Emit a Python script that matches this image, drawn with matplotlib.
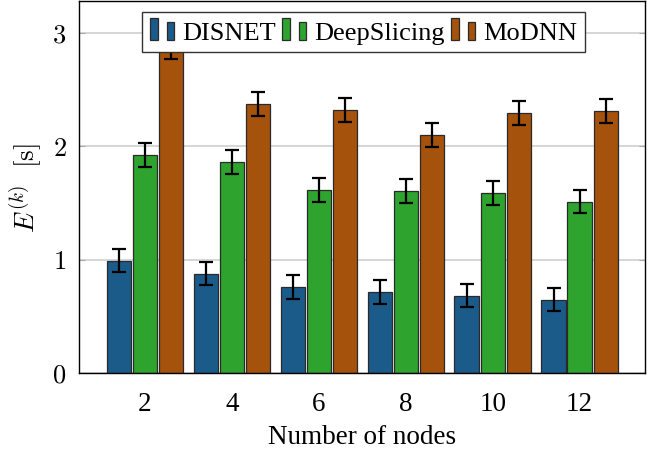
import matplotlib
matplotlib.use("Agg")
import matplotlib.pyplot as plt
import numpy as np
from matplotlib.patches import Rectangle
from matplotlib.legend_handler import HandlerBase
from matplotlib.ticker import FixedLocator, FixedFormatter

nodes = ["2", "4", "6", "8", "10", "12"]
series = ["DISNET", "DeepSlicing", "MoDNN"]
yticks = [0, 1, 2, 3]
disnet = [0.99, 0.876, 0.76, 0.712, 0.683, 0.648]
deepslicing = [1.923, 1.864, 1.615, 1.606, 1.59, 1.512]
modnn = [2.87, 2.372, 2.321, 2.098, 2.297, 2.312]
disnet_err = [0.103, 0.102, 0.105, 0.105, 0.103, 0.103]
deepslicing_err = [0.106, 0.105, 0.105, 0.105, 0.104, 0.104]
modnn_err = [0.1, 0.107, 0.106, 0.105, 0.105, 0.104]
colors = ["#1b5b8a", "#2ea32e", "#a5520c"]

plt.rcParams['font.family'] = ['Liberation Serif', 'DejaVu Serif']
plt.rcParams['mathtext.fontset'] = 'cm'
plt.rcParams['font.size'] = 19.5

fig = plt.figure(figsize=(6.58, 4.6), dpi=100)
ax = fig.add_axes([0.120, 0.187, 0.860, 0.808])

x = np.arange(len(nodes))
width = 0.28
offsets = [-0.30, 0.0, 0.30]
vals = [disnet, deepslicing, modnn]
errs = [disnet_err, deepslicing_err, modnn_err]
for i in range(3):
    ax.bar(x + offsets[i], vals[i], width, color=colors[i], edgecolor="#2a2a2a",
           linewidth=0.9, label=series[i], zorder=2)
    ax.errorbar(x + offsets[i], vals[i], yerr=errs[i], fmt='none', ecolor='black',
                elinewidth=1.6, capsize=5, capthick=1.6, zorder=3)

ax.set_xlim(-0.76, 5.75)
ax.set_ylim(0, 3.28)
ax.yaxis.set_major_locator(FixedLocator(yticks))
ax.yaxis.set_major_formatter(FixedFormatter(["$%d$" % t for t in yticks]))
ax.set_xticks(x)
ax.set_xticklabels(nodes)
ax.yaxis.grid(True, color="#d3d3d3", linewidth=1.3, zorder=0)
ax.set_axisbelow(True)
ax.tick_params(axis='x', length=0, pad=13, labelsize=19.5)
ax.tick_params(axis='y', direction='in', length=4, color='#aaaaaa', left=True, right=True,
               pad=9, labelsize=19)
for s in ax.spines.values():
    s.set_linewidth(1.0)
    s.set_color('black')

ax.set_xlabel("Number of nodes", labelpad=6)
ax.set_ylabel(r"$E^{(k)}\ \ [\mathrm{s}]$", labelpad=5, fontsize=19.5)


class TwoBarHandler(HandlerBase):
    def create_artists(self, legend, orig_handle, xdescent, ydescent, width, height, fontsize, trans):
        fc = orig_handle.get_facecolor()
        w = width * 0.30
        r1 = Rectangle((-xdescent, -ydescent - 1), w, height * 1.2, facecolor=fc,
                       edgecolor="#2a2a2a", linewidth=0.9, transform=trans)
        r2 = Rectangle((-xdescent + width * 0.66, -ydescent - 1), w, height * 0.98, facecolor=fc,
                       edgecolor="#2a2a2a", linewidth=0.9, transform=trans)
        return [r1, r2]


handles, labels = ax.get_legend_handles_labels()
patches = [h.patches[0] for h in handles]
leg = ax.legend(patches, labels, loc='upper center', bbox_to_anchor=(0.503, 0.972), ncol=3,
                frameon=True, fancybox=False, edgecolor='#333333', framealpha=1,
                handler_map={Rectangle: TwoBarHandler()}, fontsize=19,
                handlelength=0.95, handletextpad=0.25, columnspacing=0.25,
                borderpad=0.32, borderaxespad=0.0)
leg.get_frame().set_linewidth(1.0)

fig.savefig("out.png", dpi=100)
